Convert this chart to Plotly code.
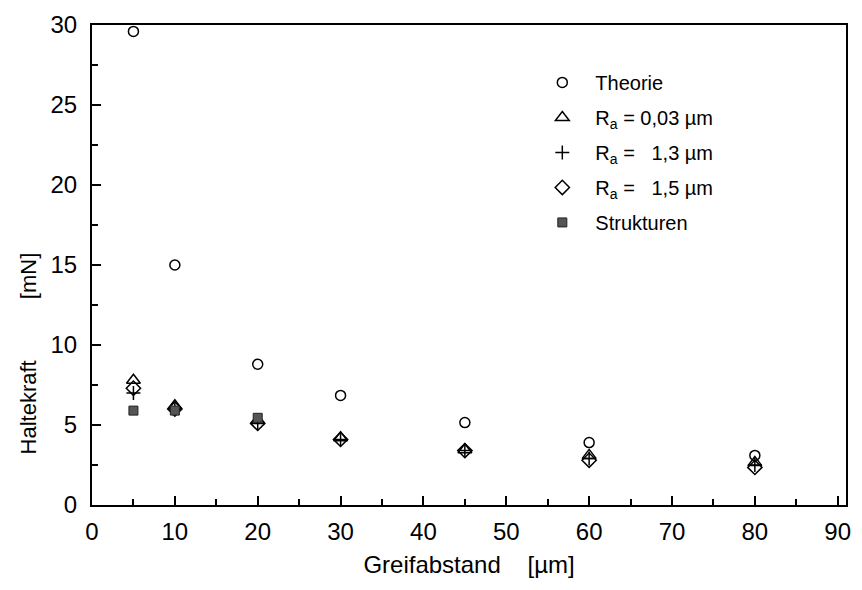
import plotly.graph_objects as go

# Greifabstand [µm]
x_all = [5, 10, 20, 30, 45, 60, 80]
x_struct = [5, 10, 20]

theorie = [29.6, 15.0, 8.8, 6.85, 5.15, 3.9, 3.1]
ra_003 = [7.8, 6.2, 5.3, 4.2, 3.45, 3.1, 2.65]
ra_13 = [7.0, 6.0, 5.1, 4.1, 3.4, 2.9, 2.5]
ra_15 = [7.3, 6.0, 5.1, 4.1, 3.4, 2.8, 2.35]
strukturen = [5.9, 5.9, 5.45]

names = ["Theorie", "R<sub>a</sub> = 0,03 µm", "R<sub>a</sub> =\u00a0\u00a0 1,3 µm",
         "R<sub>a</sub> =\u00a0\u00a0 1,5 µm", "Strukturen"]

FONT = "Liberation Sans, Arial, sans-serif"
SP = "\u00a0"

fig = go.Figure()
fig.add_trace(go.Scatter(x=x_all, y=theorie, mode="markers", name=names[0], legendgroup="a",
                         marker=dict(symbol="circle-open", size=10, color="black",
                                     line=dict(width=1.5, color="black"))))
fig.add_trace(go.Scatter(x=x_all, y=ra_003, mode="markers", name=names[1], legendgroup="b",
                         marker=dict(symbol="triangle-up-open", size=12, color="black",
                                     line=dict(width=1.5, color="black"))))
fig.add_trace(go.Scatter(x=x_all, y=ra_13, mode="markers", name=names[2], legendgroup="c",
                         marker=dict(symbol="cross-thin-open", size=10, color="black",
                                     line=dict(width=1.5, color="black"))))
fig.add_trace(go.Scatter(x=x_all, y=ra_15, mode="markers", name=names[3], legendgroup="d",
                         marker=dict(symbol="diamond-open", size=11, color="black",
                                     line=dict(width=1.5, color="black"))))
fig.add_trace(go.Scatter(x=x_struct, y=strukturen, mode="markers", name=names[4], legendgroup="e",
                         marker=dict(symbol="square", size=9, color="#555555",
                                     line=dict(width=1, color="#222222"))))

axis_common = dict(
    showline=True, linecolor="black", linewidth=2, mirror=True,
    ticks="inside", ticklen=9, tickwidth=2, tickcolor="black",
    showgrid=False, zeroline=False,
    tickfont=dict(family=FONT, size=24, color="black"),
)

fig.update_layout(
    width=862, height=590,
    margin=dict(l=92, r=11, t=19, b=85),
    plot_bgcolor="white", paper_bgcolor="white",
    font=dict(family=FONT, color="black"),
    xaxis=dict(range=[0, 91], tickvals=list(range(0, 100, 10)),
               ticklabelstandoff=4,
               minor=dict(tickvals=list(range(5, 90, 10)), ticks="inside",
                          ticklen=6, tickwidth=1.5, tickcolor="black"),
               title=dict(text="Greifabstand" + SP * 4 + "[µm]",
                          font=dict(family=FONT, size=24), standoff=12),
               **axis_common),
    yaxis=dict(range=[0, 30], tickvals=list(range(0, 35, 5)),
               ticklabelstandoff=8,
               minor=dict(tickvals=[2.5, 7.5, 12.5, 17.5, 22.5, 27.5], ticks="inside",
                          ticklen=6, tickwidth=1.5, tickcolor="black"),
               **axis_common),
    legend=dict(x=0.58, y=0.921, xanchor="left", yanchor="top",
                font=dict(family=FONT, size=20, color="black"),
                bgcolor="rgba(0,0,0,0)", itemwidth=56, tracegroupgap=6,
                traceorder="grouped"),
    annotations=[dict(text="Haltekraft" + SP * 10 + "[mN]", textangle=-90,
                      xref="paper", yref="paper", x=-0.084, y=0.315,
                      xanchor="center", yanchor="middle", showarrow=False,
                      font=dict(family=FONT, size=22, color="black"))],
)

fig.write_html("out.html")
